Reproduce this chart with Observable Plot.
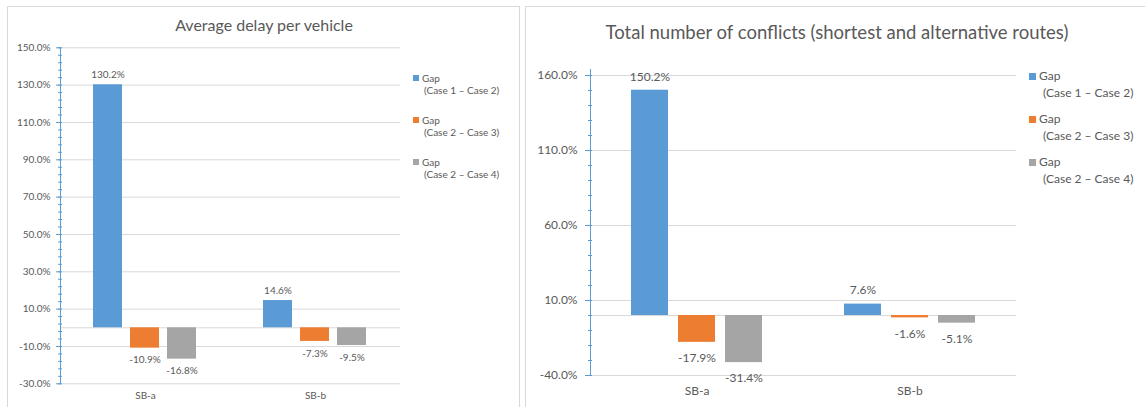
<!DOCTYPE html>
<html><head><meta charset="utf-8">
<script src="https://cdn.jsdelivr.net/npm/d3@7"></script>
<script src="https://cdn.jsdelivr.net/npm/@observablehq/plot@0.6"></script>
<style>
body{margin:0;background:#fff;font-family:Lato,sans-serif;color:#595959;}
#root{position:relative;width:1145px;height:407px;overflow:hidden;background:#fff;}
#root svg{position:absolute;top:0;}
.panel{position:absolute;border:1px solid #D9D9D9;border-bottom:none;box-sizing:border-box;pointer-events:none;}
.title{position:absolute;white-space:nowrap;transform:translate(-50%,-50%);line-height:1;}
.lg{position:absolute;white-space:nowrap;line-height:1;transform:translateY(-50%);}
.sw{position:absolute;}
</style></head><body><div id="root"></div><script>
const categories = ["SB-a", "SB-b"];
const seriesNames = ["Gap (Case 1 – Case 2)", "Gap (Case 2 – Case 3)", "Gap (Case 2 – Case 4)"];
const legendLine1 = ["Gap", "Gap", "Gap"];
const legendLine2 = ["(Case 1 – Case 2)", "(Case 2 – Case 3)", "(Case 2 – Case 4)"];
const seriesColors = ["#5B9BD5", "#ED7D31", "#A5A5A5"];
// values per category, in series order
const delaySBa = [130.2, -10.9, -16.8];
const delaySBb = [14.6, -7.3, -9.5];
const conflictSBa = [150.2, -17.9, -31.4];
const conflictSBb = [7.6, -1.6, -5.1];
const delayTicks = [-30, -10, 10, 30, 50, 70, 90, 110, 130, 150];
const conflictTicks = [-40, 10, 60, 110, 160];
const delayTitle = "Average delay per vehicle";
const conflictTitle = "Total number of conflicts (shortest and alternative routes)";

const fmt = v => v.toFixed(1) + "%";
function rows(a, b) {
  const vals = [a, b];
  return categories.flatMap((c, i) => seriesNames.map((s, j) => ({category: c, series: s, value: vals[i][j]})));
}
const root = document.getElementById("root");

function chart(o) {
  const data = rows(o.a, o.b);
  const minor = d3.range(o.domain[0], o.ticks[o.ticks.length - 1] + 0.001, o.minorStep);
  const p = Plot.plot({
    width: o.width, height: 407,
    marginLeft: o.ml, marginRight: o.mr, marginTop: o.mt, marginBottom: o.mb,
    style: {fontFamily: "Lato, sans-serif", fontSize: o.fs + "px", color: "#595959", background: "transparent"},
    fx: {domain: categories, padding: 0, label: null, tickSize: 0, tickPadding: o.fxPad},
    x: {domain: seriesNames, paddingInner: 0.21, paddingOuter: 0.86, axis: null},
    y: {domain: o.domain, label: null},
    color: {domain: seriesNames, range: seriesColors},
    marks: [
      Plot.gridY(o.ticks, {stroke: "#D9D9D9", strokeOpacity: 1}),
      Plot.ruleY([0], {stroke: "#D9D9D9"}),
      Plot.barY(data, {fx: "category", x: "series", y: "value", fill: "series", inset: 0}),
      Plot.text(data.filter(d => d.value >= 0), {fx: "category", x: "series", y: "value", text: d => fmt(d.value), dy: o.dyPos, fill: "#595959"}),
      Plot.text(data.filter(d => d.value < 0), {fx: "category", x: "series", y: "value", text: d => fmt(d.value), dy: o.dyNeg, fill: "#595959"}),
      Plot.frame({anchor: "left", facetAnchor: "left", stroke: "#5B9BD5"}),
      Plot.axisY(minor, {tickSize: 4, dx: 2, tickFormat: () => "", stroke: "#5B9BD5", label: null}),
      Plot.axisY(o.ticks, {tickSize: o.ts, tickPadding: o.tp, tickFormat: fmt, stroke: "#5B9BD5", color: "#595959", label: null})
    ]
  });
  p.style.left = o.left + "px";
  root.appendChild(p);

  const t = document.createElement("div");
  t.className = "title"; t.textContent = o.title;
  t.style.left = o.tx + "px"; t.style.top = o.ty + "px"; t.style.fontSize = o.tfs + "px";
  root.appendChild(t);

  seriesNames.forEach((s, i) => {
    const y0 = o.ly + i * o.lstep;
    const sw = document.createElement("div");
    sw.className = "sw";
    sw.style.cssText = `left:${o.lx}px;top:${y0 - o.sws / 2}px;width:${o.sws}px;height:${o.sws}px;background:${seriesColors[i]}`;
    root.appendChild(sw);
    const l1 = document.createElement("div");
    l1.className = "lg"; l1.textContent = legendLine1[i];
    l1.style.cssText += `left:${o.lx + o.sws + 3}px;top:${y0}px;font-size:${o.lfs}px`;
    root.appendChild(l1);
    const l2 = document.createElement("div");
    l2.className = "lg"; l2.textContent = legendLine2[i];
    l2.style.cssText += `left:${o.lx + o.l2dx}px;top:${y0 + o.l2dy}px;font-size:${o.lfs}px`;
    root.appendChild(l2);
  });

  const pn = document.createElement("div");
  pn.className = "panel";
  pn.style.cssText += `left:${o.px}px;top:6px;width:${o.pw}px;height:420px`;
  root.appendChild(pn);
}

chart({a: delaySBa, b: delaySBb, domain: [-30, 150], ticks: delayTicks, minorStep: 4,
  width: 519, left: 0, ml: 60, mr: 119, mt: 47.3, mb: 23.7, fs: 10, fxPad: 8,
  dyPos: -10, dyNeg: 12, ts: 4, tp: 6,
  title: delayTitle, tx: 264, ty: 25, tfs: 16,
  lx: 413, ly: 78, lstep: 42, sws: 6, lfs: 10, l2dx: 11, l2dy: 12,
  px: 7, pw: 513});

chart({a: conflictSBa, b: conflictSBb, domain: [-40, 164], ticks: conflictTicks, minorStep: 10,
  width: 620, left: 525, ml: 64, mr: 129, mt: 69, mb: 32, fs: 12, fxPad: 11,
  dyPos: -13.5, dyNeg: 16, ts: 5, tp: 8,
  title: conflictTitle, tx: 837, ty: 32, tfs: 18.5,
  lx: 1029, ly: 76, lstep: 43, sws: 7, lfs: 12, l2dx: 14, l2dy: 17,
  px: 525, pw: 640});
</script></body></html>
